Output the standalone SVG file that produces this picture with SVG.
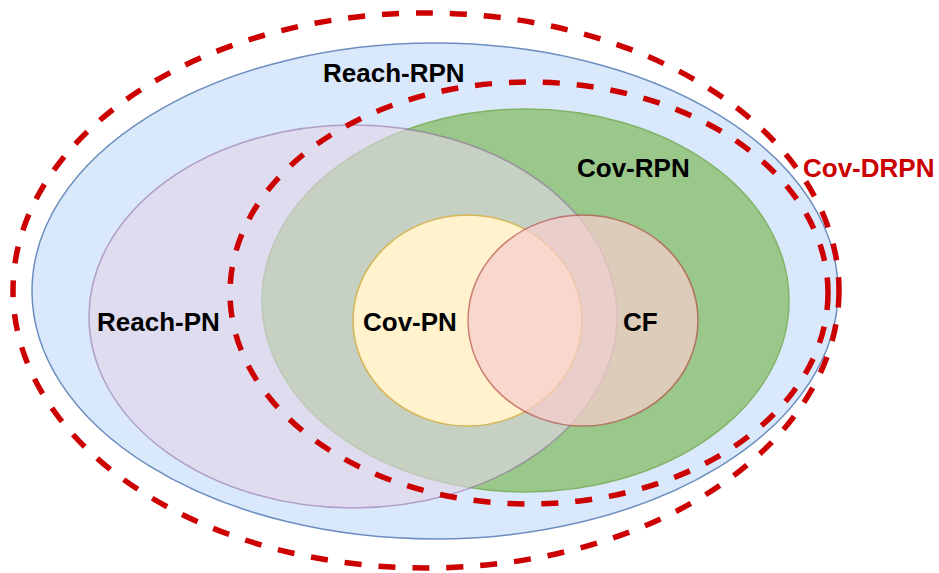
<svg xmlns="http://www.w3.org/2000/svg" width="939" height="573" viewBox="0 0 939 573">
<style>
.lbl{font-family:"Liberation Sans",Arial,sans-serif;font-weight:bold;font-size:26px;fill:#000}
.red{fill:#cc0000}
.dash{fill:none;stroke:#cc0000;stroke-width:5.5;stroke-dasharray:17 17}
.sh{stroke-width:1.5}
</style>
<rect width="939" height="573" fill="#ffffff"/>
<g id="reach-rpn">
<ellipse class="sh" cx="435" cy="291" rx="403" ry="248" fill="#dae8fc" stroke="#6c8ebf"/>
</g>
<g id="cov-rpn">
<ellipse class="sh" cx="525.5" cy="300.5" rx="263.5" ry="191.5" fill="#9ac88a" stroke="#82b366"/>
</g>
<g id="reach-pn" opacity="0.62">
<ellipse class="sh" cx="353" cy="316.5" rx="264" ry="191.5" fill="#e1d5e7" stroke="#9673a6"/>
</g>
<g id="cov-pn">
<ellipse class="sh" cx="467.5" cy="320.5" rx="114.5" ry="105.5" fill="#fff2cc" stroke="#d6b656"/>
</g>
<g id="cf" opacity="0.72">
<ellipse class="sh" cx="583" cy="320.5" rx="115" ry="105.5" fill="#f8cecc" stroke="#b85450"/>
</g>
<g id="cov-drpn">
<ellipse class="dash" cx="426" cy="290.5" rx="413" ry="277.5"/>
</g>
<g id="cov-drpn-inner">
<ellipse class="dash" cx="529" cy="293" rx="299" ry="211"/>
</g>
<g id="labels">
<text class="lbl" x="323" y="82">Reach-RPN</text>
<text class="lbl" x="577" y="177">Cov-RPN</text>
<text class="lbl red" x="803" y="177">Cov-DRPN</text>
<text class="lbl" x="97" y="331">Reach-PN</text>
<text class="lbl" x="363" y="331">Cov-PN</text>
<text class="lbl" x="623" y="331">CF</text>
</g>
</svg>
